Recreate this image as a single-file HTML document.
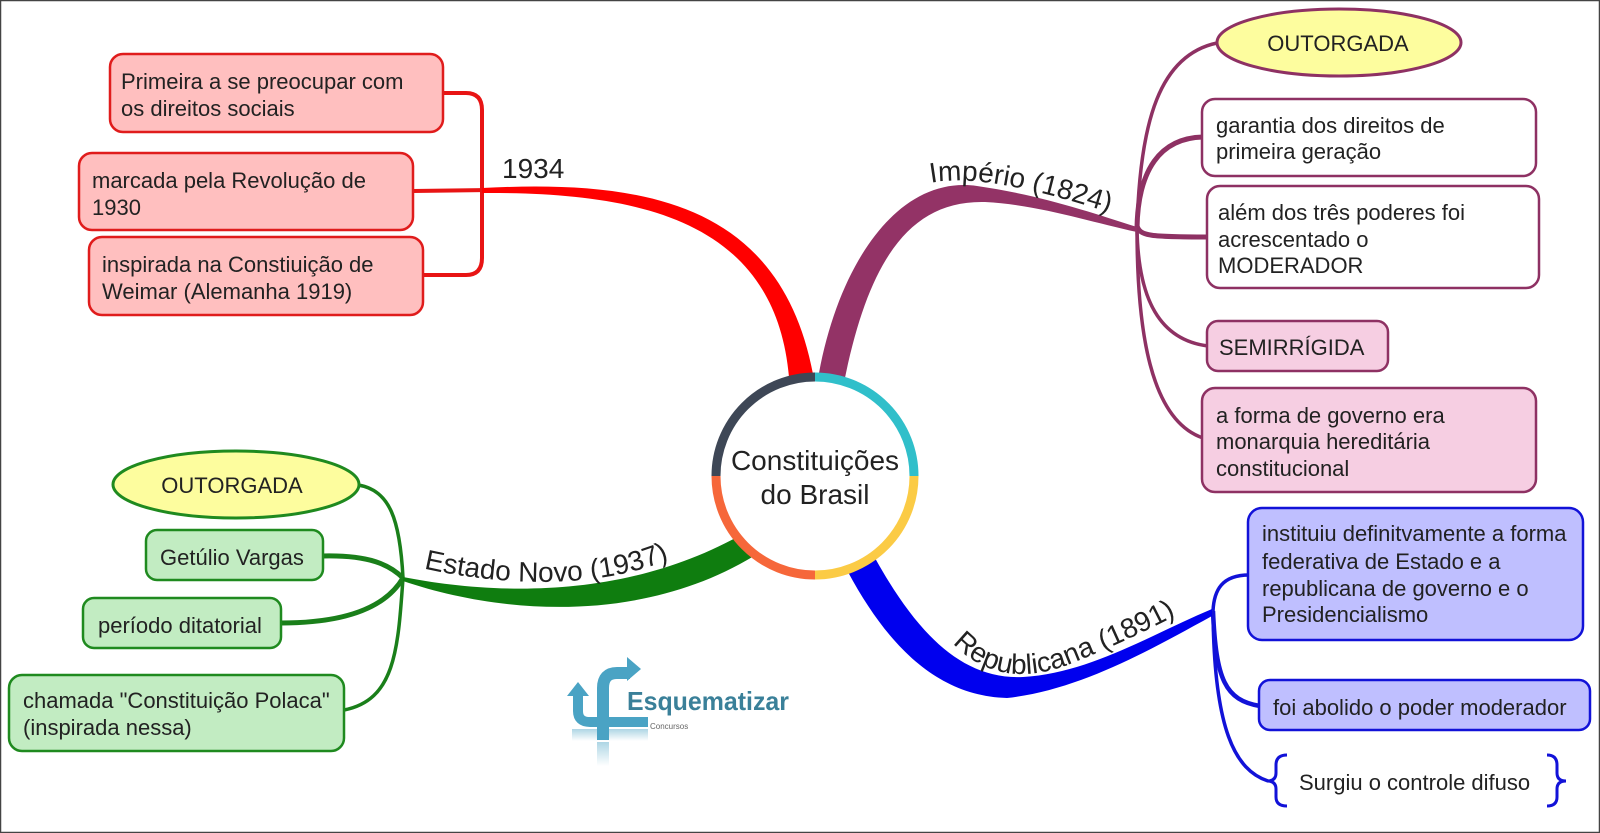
<!DOCTYPE html>
<html><head><meta charset="utf-8">
<style>
html,body{margin:0;padding:0;background:#fff;}
svg{display:block;}
text{font-family:"Liberation Sans",Arial,sans-serif;fill:#222;}
</style></head><body>
<svg width="1600" height="833" viewBox="0 0 1600 833" xmlns="http://www.w3.org/2000/svg">
<rect x="0" y="0" width="1600" height="833" fill="#fff"/>
<defs>
<path id="p1" d="M925,184 C960,176 1010,180 1120,216"/>
<path id="p2" d="M422,568 C500,586 600,590 672,558"/>
<path id="p3" d="M950,640 C985,680 1030,680 1070,664 S1150,630 1195,605"/>
<linearGradient id="lg" x1="0" y1="0" x2="0" y2="1"><stop offset="0" stop-color="#4aa3c4" stop-opacity="0.45"/><stop offset="1" stop-color="#4aa3c4" stop-opacity="0"/></linearGradient>
</defs>

<!-- ===== RED (1934) ===== -->
<g fill="none" stroke="#e81414" stroke-width="4">
<path d="M443,93 L466,93 Q482,93 482,110 L482,258 Q482,275 466,275 L423,275"/>
<path d="M413,191 L490,190"/>
</g>
<path fill="#ff0000" d="M482,188 C640,180 780,200 813,374 L810,395 L792,395 L789,377 C775,220 640,192 482,193 Z"/>
<g fill="#ffbfbf" stroke="#e01c1c" stroke-width="2.5">
<rect x="110" y="54" width="333" height="78" rx="13"/>
<rect x="79" y="153" width="334" height="77" rx="13"/>
<rect x="89" y="237" width="334" height="78" rx="13"/>
</g>
<g font-size="22">
<text x="121" y="89">Primeira a se preocupar com</text>
<text x="121" y="116">os direitos sociais</text>
<text x="92" y="188">marcada pela Revolução de</text>
<text x="92" y="215">1930</text>
<text x="102" y="272">inspirada na Constiuição de</text>
<text x="102" y="299">Weimar (Alemanha 1919)</text>
</g>
<text x="502" y="178" font-size="28">1934</text>

<!-- ===== PURPLE (Império) ===== -->
<g fill="none" stroke="#8e3163" stroke-width="3.5">
<path d="M1137,228 C1140,120 1160,55 1217,43"/>
<path d="M1137,228 C1138,170 1160,138 1203,137" stroke-width="5"/>
<path d="M1137,226 C1140,236 1150,237 1208,237" stroke-width="5"/>
<path d="M1137,228 C1138,300 1160,340 1208,346"/>
<path d="M1137,228 C1137,330 1150,420 1203,438"/>
</g>
<path fill="#933366" d="M819,373 C840,260 900,175 977,186 C1040,195 1090,212 1137,227 L1137,232 C1090,222 1040,205 985,202 C910,200 870,260 846,373 L842,392 L822,392 Z"/>
<ellipse cx="1339" cy="42.5" rx="122" ry="33.5" fill="#fdfd9e" stroke="#8e3163" stroke-width="3"/>
<g stroke="#8e3163" stroke-width="2.5">
<rect x="1202" y="99" width="334" height="77" rx="13" fill="#fff"/>
<rect x="1207" y="186" width="332" height="102" rx="13" fill="#fff"/>
<rect x="1207" y="321" width="181" height="50" rx="11" fill="#f6cee2"/>
<rect x="1202" y="388" width="334" height="104" rx="13" fill="#f6cee2"/>
</g>
<g font-size="22">
<text x="1338" y="51" text-anchor="middle">OUTORGADA</text>
<text x="1216" y="133">garantia dos direitos de</text>
<text x="1216" y="159">primeira geração</text>
<text x="1218" y="220">além dos três poderes foi</text>
<text x="1218" y="247">acrescentado o</text>
<text x="1218" y="273">MODERADOR</text>
<text x="1219" y="355">SEMIRRÍGIDA</text>
<text x="1216" y="423">a forma de governo era</text>
<text x="1216" y="449">monarquia hereditária</text>
<text x="1216" y="476">constitucional</text>
</g>
<text font-size="28"><textPath href="#p1" startOffset="6">Império (1824)</textPath></text>

<!-- ===== GREEN (Estado Novo) ===== -->
<g fill="none" stroke="#1a7f1a" stroke-width="3.5">
<path d="M358,485 C390,490 400,520 403,578"/>
<path d="M323,556 C370,555 390,565 403,578" stroke-width="5"/>
<path d="M281,623 C360,623 390,600 403,578" stroke-width="5"/>
<path d="M344,710 C395,700 398,650 403,578"/>
</g>
<path fill="#0f7d0f" d="M403,577 C480,592 620,605 746,532 L765,528 L770,545 L754,556 C640,625 500,614 403,581 Z"/>
<ellipse cx="236" cy="484.5" rx="123" ry="33.5" fill="#fdfd9e" stroke="#1f8a1f" stroke-width="3"/>
<g fill="#c2ecc2" stroke="#1f8a1f" stroke-width="2.5">
<rect x="146" y="530" width="177" height="50" rx="11"/>
<rect x="83" y="598" width="198" height="50" rx="11"/>
<rect x="9" y="675" width="335" height="76" rx="13"/>
</g>
<g font-size="22">
<text x="232" y="493" text-anchor="middle">OUTORGADA</text>
<text x="160" y="565">Getúlio Vargas</text>
<text x="98" y="633">período ditatorial</text>
<text x="23" y="708">chamada "Constituição Polaca"</text>
<text x="23" y="735">(inspirada nessa)</text>
</g>
<text font-size="28"><textPath href="#p2" startOffset="2">Estado Novo (1937)</textPath></text>

<!-- ===== BLUE (Republicana) ===== -->
<g fill="none" stroke="#1212d8" stroke-width="3.5">
<path d="M1213,611 C1214,590 1222,575 1249,575"/>
<path d="M1213,611 C1216,680 1225,700 1260,706" stroke-width="4.5"/>
<path d="M1213,611 C1214,730 1235,770 1268,781"/>
<path d="M1287,755 Q1276,755 1276,765 L1276,773 Q1276,781 1267,781 Q1276,781 1276,789 L1276,797 Q1276,806 1287,806" stroke-width="3"/>
<path d="M1547,755 Q1557,755 1557,765 L1557,773 Q1557,781 1566,781 Q1557,781 1557,789 L1557,797 Q1557,806 1547,806" stroke-width="3"/>
</g>
<path fill="#0000ee" d="M875,558 C915,630 960,680 1023,677 C1090,673 1150,635 1212,609 L1212,616 C1150,650 1080,690 1007,698 C940,696 890,650 848,572 L852,552 L868,546 Z"/>
<g fill="#bfbfff" stroke="#1212d8" stroke-width="2.5">
<rect x="1248" y="508" width="335" height="132" rx="14"/>
<rect x="1259" y="680" width="331" height="50" rx="11"/>
</g>
<g font-size="22">
<text x="1262" y="541">instituiu definitvamente a forma</text>
<text x="1262" y="569">federativa de Estado e a</text>
<text x="1262" y="596">republicana de governo e o</text>
<text x="1262" y="622">Presidencialismo</text>
<text x="1273" y="715">foi abolido o poder moderador</text>
<text x="1299" y="790">Surgiu o controle difuso</text>
</g>
<text font-size="28"><textPath href="#p3" startOffset="4">Republicana (1891)</textPath></text>

<!-- ===== CENTER ===== -->
<circle cx="815" cy="476" r="99" fill="#fff"/>
<g fill="none" stroke-width="9">
<path d="M716,476 A99,99 0 0 1 815,377" stroke="#3e4756"/>
<path d="M815,377 A99,99 0 0 1 914,476" stroke="#30bfca"/>
<path d="M914,476 A99,99 0 0 1 815,575" stroke="#fbcb45"/>
<path d="M815,575 A99,99 0 0 1 716,476" stroke="#f6673a"/>
</g>
<text x="815" y="470" text-anchor="middle" font-size="28">Constituições</text>
<text x="815" y="504" text-anchor="middle" font-size="28">do Brasil</text>

<!-- ===== LOGO ===== -->
<g>
<rect x="572" y="729" width="76" height="12" fill="url(#lg)"/>
<rect x="597" y="742" width="12" height="24" fill="url(#lg)"/>
<path d="M578,695 L578,711 Q578,722 590,722 L648,722" fill="none" stroke="#4aa3c4" stroke-width="10"/>
<polygon points="567,696 578,682 589,696" fill="#4aa3c4"/>
<path d="M603,740 L603,688 Q603,673 617,673 L630,673" fill="none" stroke="#4aa3c4" stroke-width="12"/>
<polygon points="627,657 641,669 627,681" fill="#4aa3c4"/>
<text x="627" y="710" font-size="26" font-weight="bold" textLength="162" lengthAdjust="spacingAndGlyphs" style="fill:#3a8099">Esquematizar</text>
<text x="650" y="729" font-size="8" style="fill:#666">Concursos</text>
</g>

<!-- frame -->
<rect x="0.5" y="0.5" width="1599" height="832" fill="none" stroke="#444" stroke-width="1.5"/>
</svg>
</body></html>
